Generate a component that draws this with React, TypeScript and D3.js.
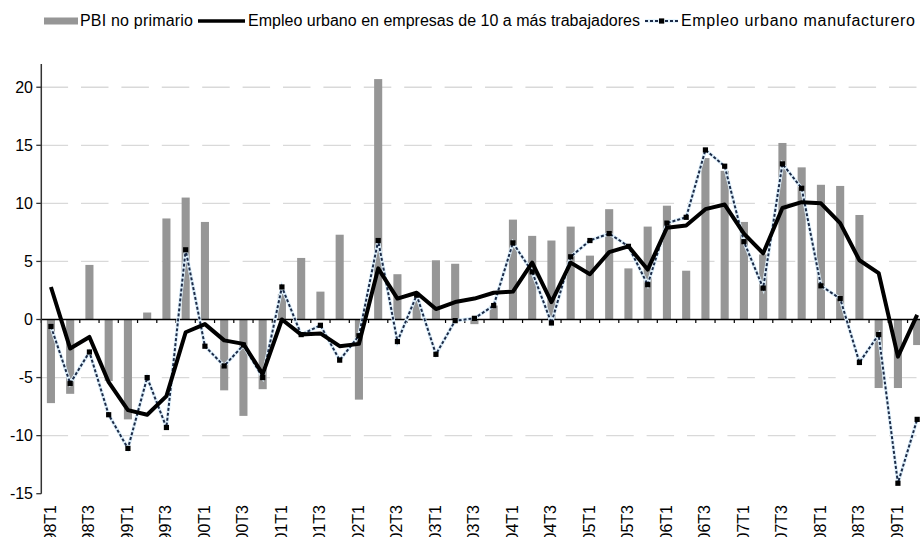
import React, { useEffect, useRef } from 'react';
import * as d3 from 'd3';

const categories = [
  '98T1', '98T2', '98T3', '98T4', '99T1', '99T2', '99T3', '99T4',
  '00T1', '00T2', '00T3', '00T4', '01T1', '01T2', '01T3', '01T4',
  '02T1', '02T2', '02T3', '02T4', '03T1', '03T2', '03T3', '03T4',
  '04T1', '04T2', '04T3', '04T4', '05T1', '05T2', '05T3', '05T4',
  '06T1', '06T2', '06T3', '06T4', '07T1', '07T2', '07T3', '07T4',
  '08T1', '08T2', '08T3', '08T4', '09T1', '09T2',
];

// PBI no primario (bars)
const pbiNoPrimario = [
  -7.2, -6.4, 4.7, -5.3, -8.6, 0.6, 8.7, 10.5,
  8.4, -6.1, -8.3, -6.0, 2.2, 5.3, 2.4, 7.3,
  -6.9, 20.7, 3.9, 1.6, 5.1, 4.8, -0.4, 1.2,
  8.6, 7.2, 6.8, 8.0, 5.5, 9.5, 4.4, 8.0,
  9.8, 4.2, 13.9, 12.8, 8.4, 5.6, 15.2, 13.1,
  11.6, 11.5, 9.0, -5.9, -5.9, -2.2,
];

// Empleo urbano en empresas de 10 a más trabajadores (solid line)
const empleoUrbano = [
  2.8, -2.5, -1.5, -5.4, -7.8, -8.2, -6.6, -1.1,
  -0.4, -1.8, -2.1, -4.7, 0.0, -1.3, -1.2, -2.3,
  -2.1, 4.4, 1.8, 2.3, 0.9, 1.5, 1.8, 2.3,
  2.4, 4.9, 1.5, 4.9, 3.9, 5.8, 6.3, 4.3,
  7.9, 8.1, 9.5, 9.9, 7.4, 5.7, 9.6, 10.1,
  10.0, 8.3, 5.1, 4.0, -3.2, 0.4,
];

// Empleo urbano manufacturero (dotted line)
const empleoManufacturero = [
  -0.6, -5.5, -2.8, -8.2, -11.1, -5.0, -9.3, 6.0,
  -2.3, -4.0, -2.2, -5.0, 2.8, -1.3, -0.5, -3.5,
  -1.4, 6.8, -1.9, 2.1, -3.0, -0.1, 0.1, 1.2,
  6.6, 4.1, -0.3, 5.4, 6.8, 7.4, 6.3, 3.0,
  8.3, 8.8, 14.6, 13.2, 6.7, 2.7, 13.4, 11.3,
  2.9, 1.8, -3.7, -1.3, -14.1, -8.6,
];

const yTicks = [-15, -10, -5, 0, 5, 10, 15, 20];
const gridValues = [-10, -5, 5, 10, 15, 20];

const FONT = '"Liberation Sans", Arial, sans-serif';

const App = () => {
  const ref = useRef<SVGSVGElement>(null);

  useEffect(() => {
    const svg = d3.select(ref.current);
    svg.selectAll('*').remove();

    const width = 920;
    const left = 41.3;
    const right = 926.8;

    const x = d3.scaleBand<string>().domain(categories).range([left, right]);
    const xBar = d3
      .scaleBand<string>()
      .domain(categories)
      .range([left, right])
      .paddingInner(0.58)
      .paddingOuter(0.29);
    const y = d3.scaleLinear().domain([-15, 22]).range([493.7, 64]);
    const cx = (c: string) => (x(c) as number) + x.bandwidth() / 2;

    // gridlines
    svg
      .append('g')
      .selectAll('line')
      .data(gridValues)
      .join('line')
      .attr('x1', 40.6)
      .attr('x2', width)
      .attr('y1', (d) => y(d))
      .attr('y2', (d) => y(d))
      .attr('stroke', '#d9d9d9')
      .attr('stroke-width', 1.3)
      .attr('stroke-dasharray', '27.5 12.9');

    // bars
    svg
      .append('g')
      .selectAll('rect')
      .data(pbiNoPrimario)
      .join('rect')
      .attr('x', (_, i) => xBar(categories[i]) as number)
      .attr('width', xBar.bandwidth())
      .attr('y', (d) => Math.min(y(d), y(0)))
      .attr('height', (d) => Math.abs(y(d) - y(0)))
      .attr('fill', '#969696');

    // x axis at zero
    const y0 = y(0);
    svg
      .append('line')
      .attr('x1', left)
      .attr('x2', width)
      .attr('y1', y0)
      .attr('y2', y0)
      .attr('stroke', '#000')
      .attr('stroke-width', 1.5);
    svg
      .append('g')
      .selectAll('line')
      .data(categories)
      .join('line')
      .attr('x1', (d) => x(d) as number)
      .attr('x2', (d) => x(d) as number)
      .attr('y1', y0)
      .attr('y2', y0 + 3.5)
      .attr('stroke', '#000')
      .attr('stroke-width', 1.2);

    // x labels (every other quarter)
    svg
      .append('g')
      .selectAll('text')
      .data(categories.filter((_, i) => i % 2 === 0))
      .join('text')
      .attr('transform', (d) => `translate(${cx(d) + 5},505) rotate(-90)`)
      .attr('text-anchor', 'end')
      .attr('font-family', FONT)
      .attr('font-size', 16)
      .attr('fill', '#000')
      .text((d) => d);

    // y axis
    svg
      .append('line')
      .attr('x1', left)
      .attr('x2', left)
      .attr('y1', y(22))
      .attr('y2', y(-15))
      .attr('stroke', '#333')
      .attr('stroke-width', 1.5);
    const yg = svg.append('g');
    yg.selectAll('line')
      .data(yTicks)
      .join('line')
      .attr('x1', left - 5)
      .attr('x2', left)
      .attr('y1', (d) => y(d))
      .attr('y2', (d) => y(d))
      .attr('stroke', '#333')
      .attr('stroke-width', 1.3);
    yg.selectAll('text')
      .data(yTicks)
      .join('text')
      .attr('x', 33)
      .attr('y', (d) => y(d) + 5.5)
      .attr('text-anchor', 'end')
      .attr('font-family', FONT)
      .attr('font-size', 16)
      .attr('fill', '#000')
      .text((d) => d);

    // lines
    const line = d3
      .line<number>()
      .x((_, i) => cx(categories[i]))
      .y((d) => y(d));

    svg
      .append('path')
      .attr('d', line(empleoManufacturero))
      .attr('fill', 'none')
      .attr('stroke', '#dff0fb')
      .attr('stroke-width', 3.5);
    svg
      .append('path')
      .attr('d', line(empleoManufacturero))
      .attr('fill', 'none')
      .attr('stroke', '#1c2b48')
      .attr('stroke-width', 2)
      .attr('stroke-dasharray', '3 2');

    svg
      .append('path')
      .attr('d', line(empleoUrbano))
      .attr('fill', 'none')
      .attr('stroke', '#000')
      .attr('stroke-width', 4)
      .attr('stroke-linejoin', 'round');

    svg
      .append('g')
      .selectAll('rect')
      .data(empleoManufacturero)
      .join('rect')
      .attr('x', (_, i) => cx(categories[i]) - 2.6)
      .attr('y', (d) => y(d) - 2.6)
      .attr('width', 5.2)
      .attr('height', 5.2)
      .attr('fill', '#000');

    // legend
    const lg = svg.append('g').attr('font-family', FONT).attr('font-size', 16);
    lg.append('rect')
      .attr('x', 44)
      .attr('y', 17.5)
      .attr('width', 34)
      .attr('height', 7)
      .attr('fill', '#969696');
    lg.append('text')
      .attr('x', 80)
      .attr('y', 26)
      .attr('textLength', 113)
      .text('PBI no primario');

    lg.append('line')
      .attr('x1', 198)
      .attr('x2', 245)
      .attr('y1', 21)
      .attr('y2', 21)
      .attr('stroke', '#000')
      .attr('stroke-width', 3.5);
    lg.append('text')
      .attr('x', 248)
      .attr('y', 26)
      .attr('textLength', 392)
      .text('Empleo urbano en empresas de 10 a más trabajadores');

    lg.append('line')
      .attr('x1', 645)
      .attr('x2', 678)
      .attr('y1', 21)
      .attr('y2', 21)
      .attr('stroke', '#dff0fb')
      .attr('stroke-width', 3.5);
    lg.append('line')
      .attr('x1', 645)
      .attr('x2', 678)
      .attr('y1', 21)
      .attr('y2', 21)
      .attr('stroke', '#1c2b48')
      .attr('stroke-width', 2)
      .attr('stroke-dasharray', '3 2');
    lg.append('rect')
      .attr('x', 659)
      .attr('y', 18.4)
      .attr('width', 5.2)
      .attr('height', 5.2)
      .attr('fill', '#000');
    lg.append('text')
      .attr('x', 681)
      .attr('y', 26)
      .attr('textLength', 234)
      .text('Empleo urbano manufacturero');
  }, []);

  return (
    <svg
      ref={ref}
      width={920}
      height={537}
      style={{ position: 'absolute', left: 0, top: 0, background: '#fff' }}
    />
  );
};

export default App;
